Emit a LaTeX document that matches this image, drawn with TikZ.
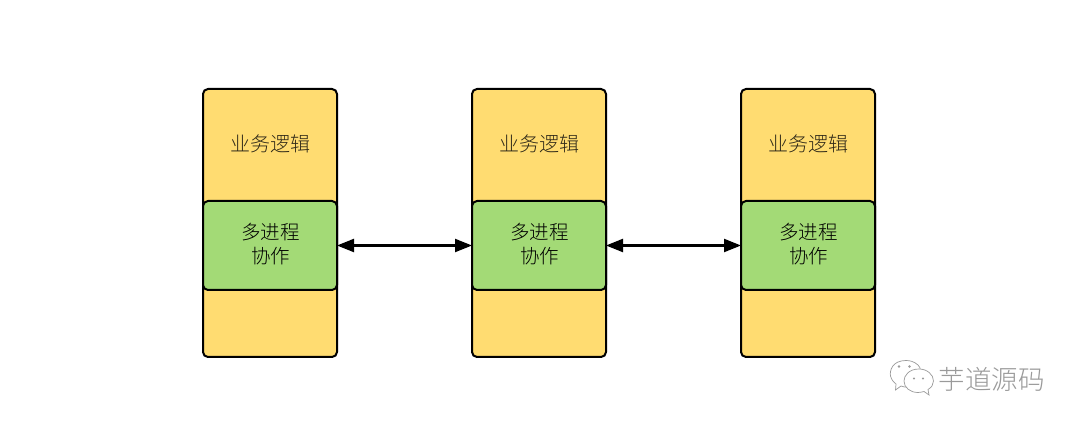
\documentclass[tikz,border=0pt]{standalone}
\usepackage{fontspec}
\usetikzlibrary{arrows.meta}
\setmainfont{Noto Sans CJK SC}[Scale=1]
\newfontfamily\cjklight{Noto Sans CJK SC Light}
\definecolor{boxyellow}{HTML}{FFDC71}
\definecolor{boxgreen}{HTML}{A3DA76}
\definecolor{labeldark}{HTML}{2E2818}
\definecolor{wmgray}{HTML}{9A9A9A}
\tikzset{
  outerbox/.style={draw=black,line width=2pt,fill=boxyellow,rounded corners=5pt,minimum width=134pt,minimum height=268pt,inner sep=0pt,outer sep=0pt,anchor=north west},
  innerbox/.style={draw=black,line width=2pt,fill=boxgreen,rounded corners=5pt,minimum width=134pt,minimum height=89pt,inner sep=0pt,outer sep=0pt,anchor=north west,align=center,font=\cjklight\fontsize{19.5pt}{24pt}\selectfont,text=black},
  toplabel/.style={font=\cjklight\fontsize{20pt}{24pt}\selectfont,text=labeldark,inner sep=0pt},
  link/.style={line width=2.2pt,{Triangle[length=17pt,width=13pt]}-{Triangle[length=17pt,width=13pt]}},
  bubble/.style={draw=wmgray,line width=0.7pt,fill=white},
  wmtext/.style={font=\cjklight\fontsize{26.5pt}{30pt}\selectfont,text=wmgray,inner sep=0pt}
}
\begin{document}
\begin{tikzpicture}[x=1pt,y=-1pt]
\useasboundingbox (0,0) rectangle (1080,427);
\fill[white] (0,0) rectangle (1080,427);
\foreach \n/\x in {a/203,b/472,c/741}{
  \node[outerbox] (outer\n) at (\x,89) {};
  \node[toplabel] (biz\n) at (\x+67,143.5) {业务逻辑};
  \node[innerbox] (inner\n) at (\x,201) {};
  \node[innerbox,draw=none,fill=none] (text\n) at (\x+0.7,199.5) {多进程\\协作};
}
\draw[link] (innera.east) -- (innerb.west);
\draw[link] (innerb.east) -- (innerc.west);
% watermark
\draw[bubble] (906,360.5) .. controls (892,360.5) and (889.5,371) .. (890.5,376) .. controls (891.5,380) and (894,382.5) .. (896,384) -- (895.5,390) -- (901,386) .. controls (905,387.5) and (909,387.5) .. (912,387) .. controls (920,383) and (924,371) .. (918,365) .. controls (914,361.5) and (910,360.5) .. (906,360.5) -- cycle;
\draw[bubble] (919,369) .. controls (909,369) and (904,375.5) .. (904,381) .. controls (904,387.5) and (910,392.5) .. (918,392.5) .. controls (920,392.5) and (922,392) .. (924,391.5) -- (929,395) -- (928,389.5) .. controls (931.5,387.5) and (933.5,384.5) .. (933.5,381) .. controls (933.5,374.5) and (927,369) .. (919,369) -- cycle;
\fill[wmgray] (899,366.5) circle (1.3pt) (909.5,366.5) circle (1.3pt) (914,378.5) circle (1.1pt) (923,378.5) circle (1.1pt);
\node[wmtext,anchor=west] (mark) at (938.5,379) {芋道源码};
\end{tikzpicture}
\end{document}
